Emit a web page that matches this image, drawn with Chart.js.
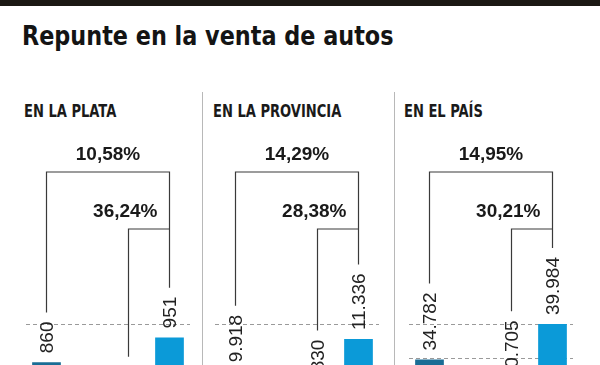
<!DOCTYPE html>
<html>
<head>
<meta charset="utf-8">
<script src="https://cdn.jsdelivr.net/npm/chart.js@4"></script>
<style>
  body { margin: 0; width: 600px; height: 365px; overflow: hidden; background: #fff; position: relative; }
  .barra { position: absolute; left: 0; top: 0; width: 600px; height: 6px; background: #1b1814; }
  h1 { position: absolute; left: 22px; top: 23px; margin: 0; white-space: nowrap; font: bold 26px/26px "Liberation Sans Narrow", "DejaVu Sans Condensed", sans-serif; color: #141414; transform: scaleX(0.955); transform-origin: left top; }
  .panel { position: absolute; top: 103px; margin: 0; white-space: nowrap; font: bold 17px/17px "Liberation Sans Narrow", "DejaVu Sans Condensed", sans-serif; color: #1a1a1a; transform: scaleX(0.855); transform-origin: left top; }
  .sep { position: absolute; top: 92px; width: 1px; height: 280px; background: #b8b8b8; }
  canvas { position: absolute; top: 0; }
</style>
</head>
<body>
<div class="barra"></div>
<h1>Repunte en la venta de autos</h1>
<div class="panel" style="left:24px">EN LA PLATA</div>
<div class="panel" style="left:213px">EN LA PROVINCIA</div>
<div class="panel" style="left:404px">EN EL PAÍS</div>
<div class="sep" style="left:202px"></div>
<div class="sep" style="left:394px"></div>
<canvas id="c0" width="200" height="600" style="left:6px"></canvas>
<canvas id="c1" width="200" height="600" style="left:195px"></canvas>
<canvas id="c2" width="200" height="600" style="left:389px"></canvas>
<script>
// slot 1 is left empty so the first bar sits apart from the last two
const periodos = ['periodo 1', '', 'periodo 2', 'periodo 3'];
const laPlata = [860, null, 698, 951];
const provincia = [9918, null, 8830, 11336];
const pais = [34782, null, 30705, 39984];
const variacionTotal = ['10,58%', '14,29%', '14,95%'];
const variacionMes = ['36,24%', '28,38%', '30,21%'];
const maximos = [2000, 24000, 80000];
const guias = [[1000], [12000], [35000, 40000]];

const colores = ['#1a6d95', 'rgba(0,0,0,0)', '#4a9cc8', '#0b9ad8'];

function formato(n) {
  return String(n).replace(/\B(?=(\d{3})+(?!\d))/g, '.');
}

const anotaciones = {
  id: 'anotaciones',
  afterDatasetsDraw(chart) {
    const ctx = chart.ctx;
    const idx = chart.options.plugins.anotaciones.panel;
    const valores = chart.data.datasets[0].data;
    const barras = chart.getDatasetMeta(0).data;
    const finLinea = {};

    ctx.save();
    ctx.font = '19px "Liberation Sans", Arial, sans-serif';
    ctx.fillStyle = '#222';
    valores.forEach((v, i) => {
      if (v == null) return;
      const b = barras[i];
      const txt = formato(v);
      const w = ctx.measureText(txt).width;
      ctx.save();
      ctx.translate(b.x, b.y - 9);
      ctx.rotate(-Math.PI / 2);
      ctx.textAlign = 'left';
      ctx.textBaseline = 'middle';
      ctx.fillText(txt, 0, 1);
      ctx.restore();
      finLinea[i] = b.y - 9 - w - 9;
    });

    const x1 = barras[0].x, x2 = barras[2].x, x3 = barras[3].x;
    const yTotal = 172, yMes = 229;
    ctx.strokeStyle = '#3a3a3a';
    ctx.lineWidth = 1.2;
    ctx.beginPath();
    ctx.moveTo(x1, finLinea[0]);
    ctx.lineTo(x1, yTotal);
    ctx.lineTo(x3, yTotal);
    ctx.lineTo(x3, finLinea[3]);
    ctx.moveTo(x2, finLinea[2]);
    ctx.lineTo(x2, yMes);
    ctx.lineTo(x3, yMes);
    ctx.stroke();

    ctx.font = 'bold 19px "Liberation Sans", Arial, sans-serif';
    ctx.fillStyle = '#1a1a1a';
    ctx.textBaseline = 'middle';
    ctx.textAlign = 'center';
    ctx.fillText(variacionTotal[idx], (x1 + x3) / 2, 155);
    ctx.textAlign = 'right';
    ctx.fillText(variacionMes[idx], x3 - 12, 212);
    ctx.restore();
  }
};

function crearPanel(idx, valores) {
  const ctx = document.getElementById('c' + idx).getContext('2d');
  return new Chart(ctx, {
    type: 'bar',
    data: {
      labels: periodos,
      datasets: [{
        data: valores,
        backgroundColor: colores,
        barPercentage: 0.7,
        categoryPercentage: 1
      }]
    },
    options: {
      responsive: false,
      animation: false,
      layout: { padding: { left: 20, right: 16, top: 51, bottom: 3 } },
      plugins: {
        legend: { display: false },
        tooltip: { enabled: false },
        anotaciones: { panel: idx }
      },
      scales: {
        x: { display: false },
        y: {
          min: 0,
          max: maximos[idx],
          ticks: { display: false },
          border: { display: false, dash: [4, 3] },
          grid: { color: '#9a9a9a', lineWidth: 1, drawTicks: false },
          afterBuildTicks: s => { s.ticks = guias[idx].map(v => ({ value: v })); }
        }
      }
    },
    plugins: [anotaciones]
  });
}

crearPanel(0, laPlata);
crearPanel(1, provincia);
crearPanel(2, pais);
</script>
</body>
</html>
